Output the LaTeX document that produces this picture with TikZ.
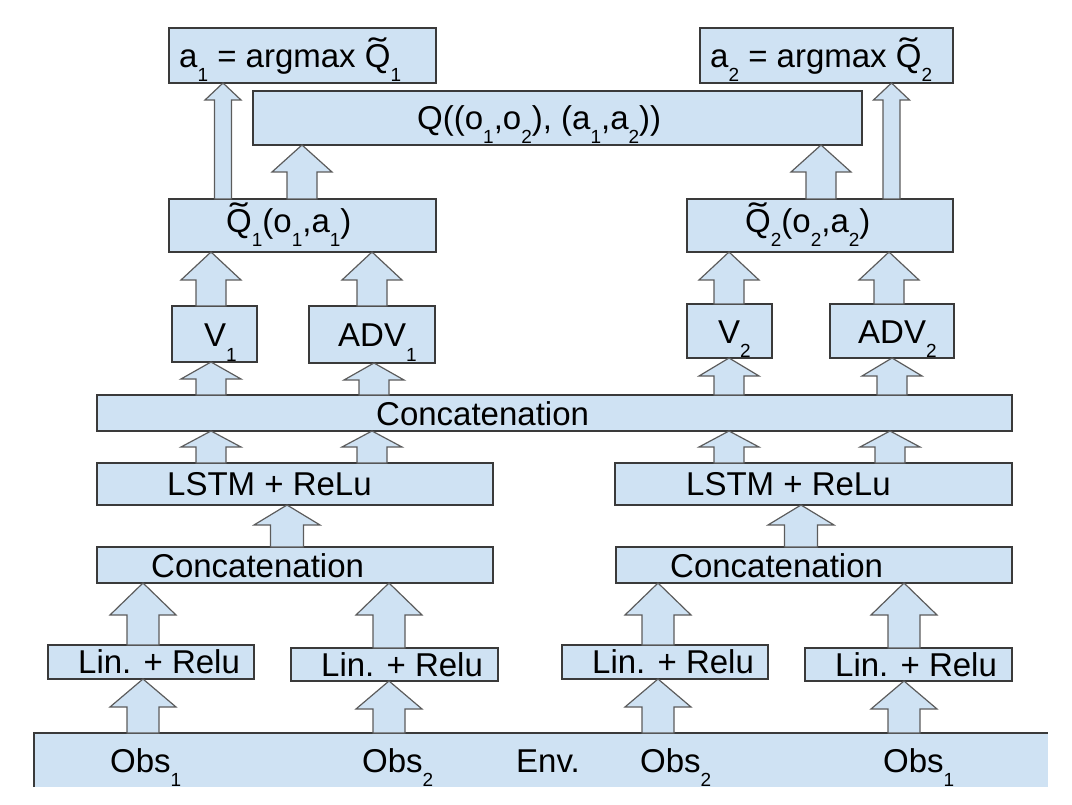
\documentclass[tikz,border=0pt]{standalone}
\usepackage{fontspec}
\setmainfont{Liberation Sans}
\usepackage{graphicx}
\definecolor{boxfill}{HTML}{CFE2F3}
\definecolor{boxline}{HTML}{3A3A3A}
\definecolor{arrline}{HTML}{5C5C5C}
\newcommand\sub[1]{\raisebox{-14pt}{\fontsize{19}{19}\selectfont #1}}
\newcommand\tQ{\ooalign{Q\cr\hidewidth\raisebox{6pt}{\scalebox{1.6}[1]{\char"02DC}}\hidewidth\cr}}
\newcommand\bx[5]{\node[box, minimum width={(#4-#2)*1pt}, minimum height={(#5-#3)*1pt}] (#1) at ({(#2+#4)/2},{(#3+#5)/2}) {};}
% #1 from node, #2 to node, #3 tip x, #4 head half width, #5 shaft half width, #6 head length
\newcommand\uparr[6]{\path[barrow] let \p1=(#2.south), \p2=(#1.north) in
  ({(#3-#5)*1pt},\y2) -- ({(#3-#5)*1pt},{\y1-#6pt}) -- ({(#3-#4)*1pt},{\y1-#6pt}) -- ({#3pt},\y1)
  -- ({(#3+#4)*1pt},{\y1-#6pt}) -- ({(#3+#5)*1pt},{\y1-#6pt}) -- ({(#3+#5)*1pt},\y2) -- cycle;}
\tikzset{
  box/.style={draw=boxline, fill=boxfill, line width=1.2pt, inner sep=0pt, outer sep=0pt},
  lab/.style={anchor=base west, inner sep=0pt, font=\fontsize{33}{40}\selectfont},
  barrow/.style={draw=arrline, fill=boxfill, line width=1.2pt, line join=miter},
}
\usetikzlibrary{calc}
\begin{document}
\begin{tikzpicture}[x=1pt,y=-1pt]
\useasboundingbox (0,0) rectangle (1072,805);
% boxes
\bx{a1}{169}{28}{436}{83}
\bx{a2}{700}{28}{953}{83}
\bx{q}{253}{91}{862}{145}
\bx{q1t}{169}{199}{436}{252}
\bx{q2t}{687}{199}{953}{252}
\bx{v1}{172}{306}{257}{362}
\bx{adv1}{309}{306}{435}{363}
\bx{v2}{687}{304}{772}{358}
\bx{adv2}{830}{304}{954}{358}
\bx{cat}{97}{395}{1012}{431}
\bx{lstm1}{97}{463}{493}{505}
\bx{lstm2}{615}{463}{1012}{505}
\bx{cat1}{97}{547}{493}{583}
\bx{cat2}{616}{547}{1012}{583}
\bx{lin1}{48}{645}{254}{679}
\bx{lin2}{291}{648}{498}{681}
\bx{lin3}{562}{645}{768}{679}
\bx{lin4}{805}{648}{1012}{681}
\node[fill=boxfill, inner sep=0pt, outer sep=0pt, minimum width=1014pt, minimum height=54pt] (env) at (541,760) {};
\draw[boxline, line width=1.2pt] (env.south west) -- (env.north west) -- (env.north east);
% arrows
\uparr{env}{lin1}{143}{33}{16}{28}
\uparr{env}{lin2}{389}{33}{16}{28}
\uparr{env}{lin3}{658}{33}{16}{28}
\uparr{env}{lin4}{904}{33}{16}{28}
\uparr{lin1}{cat1}{143}{33}{16}{32}
\uparr{lin2}{cat1}{389}{33}{16}{32}
\uparr{lin3}{cat2}{658}{33}{16}{32}
\uparr{lin4}{cat2}{904}{33}{16}{32}
\uparr{cat1}{lstm1}{287}{33}{16.5}{20}
\uparr{cat2}{lstm2}{801}{33}{16.5}{20}
\uparr{lstm1}{cat}{211}{30}{15}{16}
\uparr{lstm1}{cat}{372}{30}{15}{16}
\uparr{lstm2}{cat}{729}{30}{15}{16}
\uparr{lstm2}{cat}{890}{30}{15}{16}
\uparr{cat}{v1}{211}{30}{15}{17}
\uparr{cat}{adv1}{374}{30}{15}{17}
\uparr{cat}{v2}{729}{30}{15}{18}
\uparr{cat}{adv2}{892}{30}{15}{18}
\uparr{v1}{q1t}{211}{30}{15}{28}
\uparr{adv1}{q1t}{372}{30}{15}{28}
\uparr{v2}{q2t}{729}{30}{15}{28}
\uparr{adv2}{q2t}{889}{30}{15}{28}
\uparr{q1t}{q}{302}{30}{15}{27}
\uparr{q2t}{q}{821}{30}{15}{27}
\uparr{q1t}{a1}{223}{18}{8.5}{17}
\uparr{q2t}{a2}{891.5}{18}{8.5}{17}
% labels
\node[lab] (ta1) at (179,68) {a\sub{1} = argmax \tQ\sub{1}};
\node[lab] (ta2) at (710,68) {a\sub{2} = argmax \tQ\sub{2}};
\node[lab] (tq) at (417,130) {Q((o\sub{1},o\sub{2}), (a\sub{1},a\sub{2}))};
\node[lab] (tq1) at (226,233) {\tQ\sub{1}(o\sub{1},a\sub{1})};
\node[lab] (tq2) at (745,233) {\tQ\sub{2}(o\sub{2},a\sub{2})};
\node[lab] (tv1) at (204,347) {V\sub{1}};
\node[lab] (tadv1) at (338,347) {ADV\sub{1}};
\node[lab] (tv2) at (718,344) {V\sub{2}};
\node[lab] (tadv2) at (858,344) {ADV\sub{2}};
\node[lab] (tcat) at (376,425) {Concatenation};
\node[lab] (tl1) at (167,495) {LSTM + ReLu};
\node[lab] (tl2) at (686,495) {LSTM + ReLu};
\node[lab] (tc1) at (151,577) {Concatenation};
\node[lab] (tc2) at (670,577) {Concatenation};
\node[lab] (tlin1) at (78,673) {Lin. + Relu};
\node[lab] (tlin2) at (321,676) {Lin. + Relu};
\node[lab] (tlin3) at (592,673) {Lin. + Relu};
\node[lab] (tlin4) at (835,676) {Lin. + Relu};
\node[lab] (to1) at (110,772) {Obs\sub{1}};
\node[lab] (to2) at (362,772) {Obs\sub{2}};
\node[lab] (tenv) at (516,772) {Env.};
\node[lab] (to3) at (640,772) {Obs\sub{2}};
\node[lab] (to4) at (883,772) {Obs\sub{1}};
\end{tikzpicture}
\end{document}
